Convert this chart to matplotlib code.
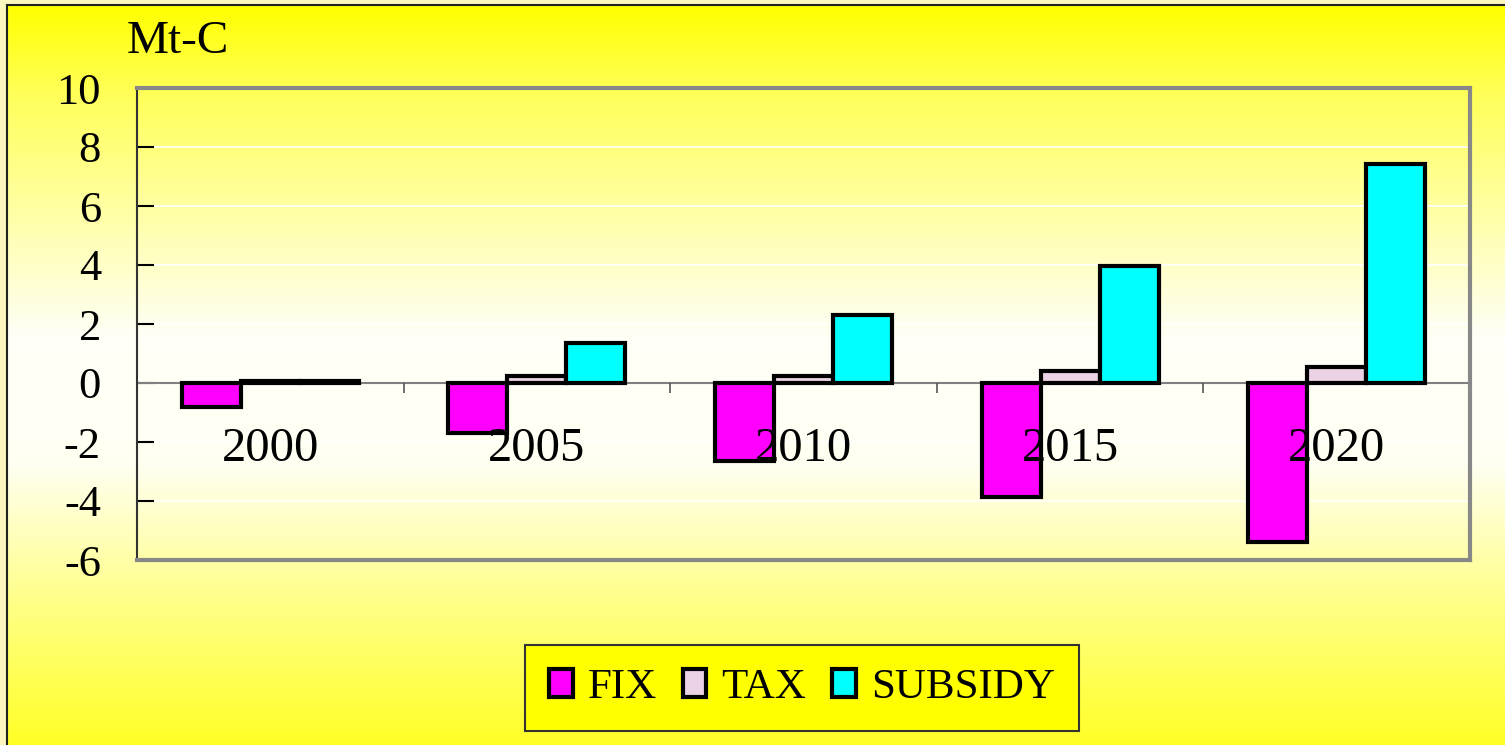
import numpy as np
import matplotlib
matplotlib.use("Agg")
import matplotlib.pyplot as plt

years = ["2000", "2005", "2010", "2015", "2020"]
series_names = ["FIX", "TAX", "SUBSIDY"]
fix_values = [-0.82, -1.68, -2.65, -3.86, -5.40]
tax_values = [0.08, 0.24, 0.24, 0.40, 0.54]
subsidy_values = [0.08, 1.36, 2.30, 3.97, 7.42]
y_ticks = [-6, -4, -2, 0, 2, 4, 6, 8, 10]

colors = ["#FF00FF", "#EBD2E4", "#00FFFF"]

plt.rcParams["font.family"] = ["Liberation Serif", "DejaVu Serif"]

W, H = 1505, 745
fig = plt.figure(figsize=(W / 100, H / 100), dpi=100)
fig.patch.set_facecolor("#FCF7BE")

# background gradient panel: yellow -> near white -> yellow
bg = fig.add_axes([7 / W, 0, 1 - 7 / W, 1 - 5 / H], zorder=0)
rows = np.linspace(0, 1, 400)
blue = np.interp(rows, [0.0, 0.12, 0.45, 0.62, 0.80, 1.0], [0.0, 0.35, 0.97, 0.95, 0.55, 0.15])
grad = np.ones((400, 2, 3))
grad[:, :, 2] = blue[:, None]
bg.imshow(grad, aspect="auto", extent=[0, 1, 0, 1], interpolation="bilinear")
bg.set_xticks([])
bg.set_yticks([])
for side in ["right", "bottom"]:
    bg.spines[side].set_visible(False)
for side in ["left", "top"]:
    bg.spines[side].set_linewidth(1.5)
    bg.spines[side].set_color("#222222")

ax = fig.add_axes([137 / W, (H - 560) / H, (1470 - 137) / W, (560 - 88) / H], zorder=1)
ax.patch.set_alpha(0)

x = np.arange(len(years))
width = 0.2213
for i, (vals, name) in enumerate(zip([fix_values, tax_values, subsidy_values], series_names)):
    ax.bar(x + (i - 1) * width, vals, width, color=colors[i], edgecolor="black",
           linewidth=3, label=name, zorder=3)

ax.set_xlim(-0.5, len(years) - 0.5)
ax.set_ylim(-6, 10)
ax.set_yticks(y_ticks)
ax.set_yticklabels([str(t) for t in y_ticks], fontsize=32)
ax.tick_params(axis="y", direction="in", length=12, width=1.5, pad=26, colors="black")
ax.set_xticks([])
ax.grid(axis="y", color="white", linewidth=1.2, zorder=0)
ax.set_axisbelow(True)

ax.axhline(0, color="#808080", linewidth=1.5, zorder=2)
bounds = np.arange(len(years)) + 0.5
ax.vlines(bounds, -0.34, 0, color="#555555", linewidth=1.2, zorder=2)

for xi, label in zip(x, years):
    ax.text(xi, -2.64, label, ha="center", va="baseline", fontsize=35, zorder=4)

for side in ["top", "right", "bottom"]:
    ax.spines[side].set_color("#888888")
    ax.spines[side].set_linewidth(3)
ax.spines["left"].set_color("#333333")
ax.spines["left"].set_linewidth(1.5)

fig.text(178 / W, 1 - 42 / H, "Mt-C", ha="center", va="center", fontsize=34)

leg = fig.legend(loc="center", bbox_to_anchor=(802 / W, 1 - 688 / H), ncol=3,
                 fontsize=31, frameon=True, fancybox=False, handlelength=0.55,
                 handleheight=0.6, handletextpad=0.35, columnspacing=0.6,
                 borderpad=0.55, borderaxespad=0)
leg.get_frame().set_facecolor("#FFFF00")
leg.get_frame().set_edgecolor("#333333")
leg.get_frame().set_linewidth(1.5)
leg.get_frame().set_alpha(1)

fig.savefig("out.png", dpi=100)
